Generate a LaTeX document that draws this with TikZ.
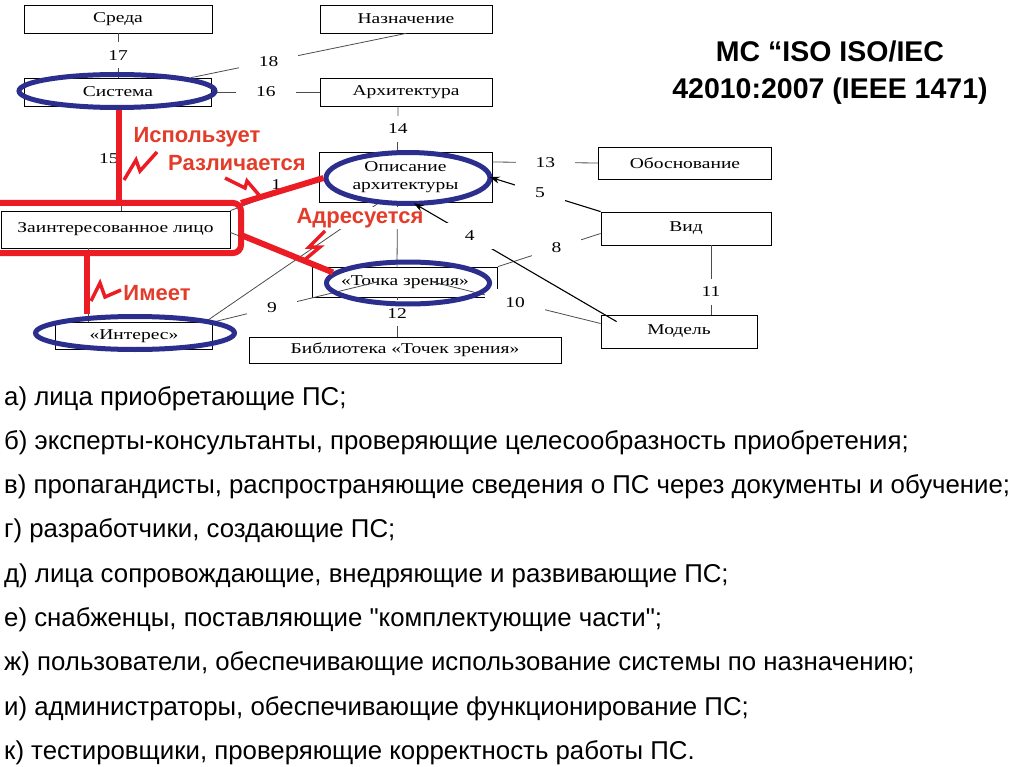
\documentclass[tikz,border=0pt]{standalone}
\usepackage{fontspec}
\setmainfont{Liberation Serif}
\newfontfamily\sansf{Liberation Sans}
\usepackage{graphicx}
\usetikzlibrary{arrows.meta,calc,positioning,shapes.geometric}
\definecolor{ellblue}{RGB}{43,46,140}
\definecolor{linered}{RGB}{236,28,36}
\definecolor{textred}{RGB}{228,60,42}
\newcommand{\sx}[1]{\scalebox{1.3}[1]{#1}}
\tikzset{blk/.style={draw, line width=0.8pt, inner sep=0pt, align=center, font=\fontsize{15}{18}\selectfont},
  ell/.style={ellipse, draw=ellblue, line width=5pt, inner sep=0pt},
  conn/.style={draw=black!70, line width=0.8pt},
  pin/.style={draw=black, line width=1.1pt, -{Stealth[length=10pt, width=7pt]}},
  num/.style={fill=white, inner xsep=20pt, inner ysep=8pt, font=\fontsize{15}{15}\selectfont},
  redln/.style={draw=linered, line width=6pt},
  bolt/.style={draw=linered, line width=3.5pt, line join=miter},
  rtxt/.style={text=textred, inner sep=1pt, font=\sansf\bfseries\fontsize{22}{22}\selectfont},
  lst/.style={anchor=base west, inner sep=0pt, font=\sansf\fontsize{25.8}{25.8}\selectfont}}

\begin{document}
\begin{tikzpicture}[x=1pt, y=-1pt]
  \useasboundingbox (0,0) rectangle (1024,767);
  % boxes
  \node[blk, minimum width=188pt, minimum height=28pt] (sreda) at (118,19) {\sx{Среда}};
  \node[blk, minimum width=172pt, minimum height=28pt] (nazn) at (406,19) {\sx{Назначение}};
  \node[blk, minimum width=187pt, minimum height=28pt] (sist) at (118,92) {\sx{Система}};
  \node[blk, minimum width=172pt, minimum height=28pt] (arch) at (406,92) {\sx{Архитектура}};
  \node[blk, minimum width=173pt, minimum height=50pt] (opis) at (405.5,177) {\sx{Описание}\\\sx{архитектуры}};
  \node[blk, minimum width=173pt, minimum height=32pt] (obosn) at (685,163) {\sx{Обоснование}};
  \node[blk, minimum width=170pt, minimum height=33pt] (vid) at (686,228.5) {\sx{Вид}};
  \node[blk, minimum width=229pt, minimum height=37pt] (zl) at (115.5,229.5) {\sx{Заинтересованное лицо}};
  \node[blk, minimum width=185pt, minimum height=30pt] (tochka) at (405,282) {\sx{«Точка зрения»}};
  \node[blk, minimum width=156pt, minimum height=33pt] (model) at (679,331.5) {\sx{Модель}};
  \node[blk, minimum width=157pt, minimum height=27pt] (inter) at (134,336) {\sx{«Интерес»}};
  \node[blk, minimum width=312pt, minimum height=26pt] (bibl) at (405,350) {\sx{Библиотека «Точек зрения»}};

  % numbered links
  \draw[conn] (sreda.south) -- node[num, pos=.49]{\sx{17}} (sist.north);
  \draw[conn] ($(sist.north)!.78!(sist.north east)$) -- node[num, pos=.36]{\sx{18}} (nazn.south);
  \draw[conn] (sist.east) -- node[num]{\sx{16}} (arch.west);
  \draw[conn] ([xshift=-8pt]arch.south) -- node[num]{\sx{14}} ([xshift=-8pt]opis.north);
  \draw[conn] ([yshift=15pt]opis.east) -- node[num]{\sx{13}} (obosn.west);
  \draw[conn] ([xshift=25pt]vid.south) -- node[num, pos=.67]{\sx{11}} ([xshift=25pt]vid.south |- model.north);
  \draw[conn] ([yshift=-5pt]vid.west) -- node[num, pos=.43]{\sx{8}} (tochka.north east);
  \draw[conn] ($(tochka.center)!.3!(tochka.east)$) -- node[num, pos=.49]{\sx{10}} ([yshift=8pt]model.west);
  \draw[conn] (inter.north east) -- node[num, pos=.36]{\sx{9}} ($(tochka.center)!.3!(tochka.west)$);
  \draw[conn] ([xshift=-8pt]tochka.south) -- node[num, pos=.4]{\sx{12}} ([xshift=-8pt]bibl.north);
  \draw[conn] ([xshift=-8pt]opis.south) -- ([xshift=-8pt]tochka.north);
  \draw[conn] ($(inter.north)!.9!(inter.north east)$) -- ($(opis.south)!.3!(opis.south west)$);
  \draw[conn] (zl.north east) -- node[pos=.52, above=3pt, inner sep=0pt, font=\fontsize{15}{15}\selectfont]{\sx{1}} (opis.west);
  \draw[conn] ([xshift=-27pt]zl.south) -- ([xshift=-27pt]zl.south |- inter.north);
  \draw[conn] ([xshift=3pt]sist.south) -- node[pos=.5, anchor=east, inner sep=2pt, font=\fontsize{15}{15}\selectfont]{\sx{15}} ([xshift=3pt]sist.south |- zl.north);

  % red frame round the stakeholder
  \coordinate (rnw) at (-3,203);
  \coordinate (rne) at (241,203);
  \coordinate (rse) at (241,253);
  \coordinate (rsw) at (-3,253);
  \coordinate (rtop) at ($(rnw)!.5!(rne)$);
  \coordinate (rbot) at ($(rsw)!.37!(rse)$);
  \coordinate (rmid) at ($(rne)!.64!(rse)$);
  \draw[redln, rounded corners=8pt] (rnw) -- (rne) -- (rse) -- (rsw);

  % ellipses
  \node[ell, minimum width=196pt, minimum height=33pt] (sistE) at (117,91) {};
  \node[ell, minimum width=164pt, minimum height=51pt] (opisE) at (408,178) {};
  \node[ell, minimum width=163pt, minimum height=42pt] (tochkaE) at (408,283) {};
  \node[ell, minimum width=199pt, minimum height=33pt] (interE) at (135,333) {};

  \draw[conn] ([yshift=-3pt]zl.east) -- (tochkaE.172);
  \draw[redln] (rtop) -- (rtop |- sistE.south);
  \draw[redln] (rbot) -- (rbot |- interE.north);
  \draw[redln] (rne) -- (opisE.west);
  \draw[redln] (rmid) -- (tochkaE.172);

  % red captions with bolts
  \node[rtxt] (ispL) at (197,137) {Использует};
  \node[rtxt] (razL) at (237,163) {Различается};
  \node[rtxt, fill=white] (adrL) at (360,218) {Адресуется};
  \node[rtxt] (imL) at (157,293) {Имеет};
  \draw[bolt] (124,180) -- (136,160) -- (140,171) -- (157,152);
  \draw[bolt] (225,178) -- (245,188) -- (247,181) -- (259,195);
  \draw[bolt] (325,231) -- (309,247) -- (320,247) -- (302,262);
  \draw[bolt] (91,301) -- (100,283) -- (105,297) -- (121,290);

  % arrows
  \draw[pin, shorten >=-5pt] ([xshift=16pt, yshift=-7pt]model.north west) -- node[num, pos=.74]{\sx{4}} (opisE.-70);
  \draw[pin, shorten >=-3pt] (vid.north west) -- node[num, pos=.56]{\sx{5}} (opisE.east);

  \node[align=center, font=\sansf\bfseries\fontsize{28.5}{37}\selectfont] (title) at (830,73) {МС “ISO ISO/IEC\\42010:2007 (IEEE 1471)};

  % list of stakeholders
  \foreach \t [count=\i from 0] in {{а) лица приобретающие ПС;},
    {б) эксперты-консультанты, проверяющие целесообразность приобретения;},
    {в) пропагандисты, распространяющие сведения о ПС через документы и обучение;},
    {г) разработчики, создающие ПС;},
    {д) лица сопровождающие, внедряющие и развивающие ПС;},
    {е) снабженцы, поставляющие "комплектующие части";},
    {ж) пользователи, обеспечивающие использование системы по назначению;},
    {и) администраторы, обеспечивающие функционирование ПС;},
    {к) тестировщики, проверяющие корректность работы ПС.}}
    \node[lst] (l\i) at (4,405+44.3*\i) {\t};
\end{tikzpicture}
\end{document}
